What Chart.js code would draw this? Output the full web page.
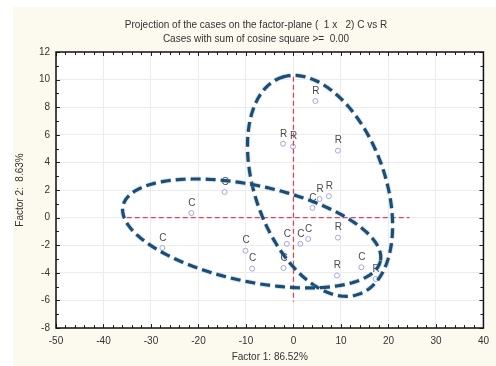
<!DOCTYPE html>
<html><head><meta charset="utf-8">
<script src="https://cdn.jsdelivr.net/npm/chart.js@4.4.1/dist/chart.umd.min.js"></script>
<style>html,body{margin:0;padding:0;background:#fff;}canvas{display:block;}</style>
</head><body>
<canvas id="c" width="496" height="366"></canvas>
<script>
// ---- data ----
const titleLine1 = "Projection of the cases on the factor-plane (  1 x   2) C vs R";
const titleLine2 = "Cases with sum of cosine square >=  0.00";
const xAxisTitle = "Factor 1: 86.52%";
const yAxisTitle = "Factor 2:  8.63%";

const cX = [-14.5, -21.5, -27.6, -10.1, -8.7, -1.4, 1.45, 3.1, -2.1, 14.3, 4.0];
const cY = [1.85, 0.33, -2.2, -2.4, -3.7, -1.9, -1.9, -1.55, -3.65, -3.6, 0.7];
const cLabel = "C";

const rX = [4.6, -2.2, -0.1, 9.35, 5.5, 7.45, 9.35, 9.15, 17.3];
const rY = [8.45, 5.35, 5.15, 4.85, 1.35, 1.55, -1.45, -4.2, -4.45];
const rLabel = "R";

// reference (zero) lines: [x1,y1,x2,y2]
const vZeroLine = [0, 10.2, 0, -6.1];
const hZeroLine = [-35.1, 0, 24.4, 0];

// ellipses in data units: [centerX, centerY, axis1X, axis1Y, axis2X, axis2Y]
const ellipseR = [5.6, 2.3, -8.26, 7.84, 12.85, 1.61];
const ellipseC = [-8.8, -1.15, 27.1, -1.99, -2.1, -3.41];

const xTicks = {min: -50, max: 40, step: 10, minor: 2};
const yTicks = {min: -8, max: 12, step: 2, minor: 1};

// ---- drawing ----
const FONT = "'Liberation Sans', Arial, sans-serif";
const bgPlugin = {
  id: 'bg',
  beforeDraw(chart) {
    const ctx = chart.ctx, a = chart.chartArea;
    ctx.save();
    ctx.fillStyle = '#ffffff';
    ctx.fillRect(0, 0, chart.width, chart.height);
    ctx.fillStyle = '#fcf9ef';
    ctx.fillRect(13, 7, chart.width - 13, chart.height - 7);
    ctx.fillStyle = '#ffffff';
    ctx.fillRect(a.left, a.top, a.right - a.left, a.bottom - a.top);
    ctx.restore();
  },
  afterDraw(chart) {
    const ctx = chart.ctx, a = chart.chartArea;
    const xs = chart.scales.x, ys = chart.scales.y;
    ctx.save();
    // minor / major inward tick marks
    ctx.strokeStyle = '#222';
    ctx.lineWidth = 1;
    ctx.beginPath();
    for (let v = xTicks.min; v <= xTicks.max + 1e-9; v += xTicks.minor) {
      const px = Math.round(xs.getPixelForValue(v)) + 0.5;
      const len = (Math.abs(v % xTicks.step) < 1e-9) ? 4 : 3;
      ctx.moveTo(px, a.bottom); ctx.lineTo(px, a.bottom - len);
      ctx.moveTo(px, a.top); ctx.lineTo(px, a.top + len);
    }
    for (let v = yTicks.min; v <= yTicks.max + 1e-9; v += yTicks.minor) {
      const py = Math.round(ys.getPixelForValue(v)) + 0.5;
      const len = (Math.abs(v % yTicks.step) < 1e-9) ? 4 : 3;
      ctx.moveTo(a.left, py); ctx.lineTo(a.left + len, py);
      ctx.moveTo(a.right, py); ctx.lineTo(a.right - len, py);
    }
    ctx.stroke();
    // frame
    ctx.lineWidth = 1.5;
    ctx.strokeStyle = '#111';
    ctx.strokeRect(a.left, a.top, a.right - a.left, a.bottom - a.top);
    // titles
    ctx.fillStyle = '#333';
    ctx.font = '10px ' + FONT;
    ctx.textAlign = 'center';
    ctx.textBaseline = 'middle';
    ctx.fillText(titleLine1, 256, 25);
    ctx.fillText(titleLine2, 256, 39);
    ctx.fillText(xAxisTitle, (a.left + a.right) / 2, 357);
    ctx.translate(20, (a.top + a.bottom) / 2);
    ctx.rotate(-Math.PI / 2);
    ctx.fillText(yAxisTitle, 0, 0);
    ctx.restore();
  },
  afterDatasetDraw(chart, args) {
    const ds = chart.data.datasets[args.index];
    if (!ds.pointLabel) return;
    const ctx = chart.ctx;
    const meta = chart.getDatasetMeta(args.index);
    ctx.save();
    ctx.fillStyle = '#4a4a4a';
    ctx.font = '10px ' + FONT;
    ctx.textAlign = 'center';
    ctx.textBaseline = 'middle';
    meta.data.forEach(el => ctx.fillText(ds.pointLabel, el.x + 0.5, el.y - 10));
    ctx.restore();
  },
  afterDatasetsDraw(chart) {
    const ctx = chart.ctx, a = chart.chartArea;
    const xs = chart.scales.x, ys = chart.scales.y;
    ctx.save();
    ctx.beginPath();
    ctx.rect(a.left, a.top, a.right - a.left, a.bottom - a.top);
    ctx.clip();
    [ellipseR, ellipseC].forEach(e => {
      ctx.beginPath();
      const n = 240;
      for (let i = 0; i <= n; i++) {
        const t = i / n * Math.PI * 2;
        const dx = e[0] + e[2] * Math.cos(t) + e[4] * Math.sin(t);
        const dy = e[1] + e[3] * Math.cos(t) + e[5] * Math.sin(t);
        const px = xs.getPixelForValue(dx), py = ys.getPixelForValue(dy);
        if (i === 0) ctx.moveTo(px, py); else ctx.lineTo(px, py);
      }
      ctx.closePath();
      ctx.strokeStyle = 'rgba(120,180,220,0.35)';
      ctx.lineWidth = 5;
      ctx.setLineDash([10, 5]);
      ctx.stroke();
      ctx.strokeStyle = '#1e4d74';
      ctx.lineWidth = 3.2;
      ctx.stroke();
    });
    ctx.restore();
  }
};

const pts = (xs, ys) => xs.map((x, i) => ({x: x, y: ys[i]}));
const seg = s => [{x: s[0], y: s[1]}, {x: s[2], y: s[3]}];

new Chart(document.getElementById('c'), {
  type: 'scatter',
  data: {
    datasets: [
      {data: pts(cX, cY), pointLabel: cLabel, pointRadius: 2.5, pointBorderWidth: 1,
       pointBorderColor: '#a3a6e6', pointBackgroundColor: 'rgba(255,255,255,0)', order: 3},
      {data: pts(rX, rY), pointLabel: rLabel, pointRadius: 2.5, pointBorderWidth: 1,
       pointBorderColor: '#a3a6e6', pointBackgroundColor: 'rgba(255,255,255,0)', order: 3},
      {data: seg(vZeroLine), showLine: true, borderColor: '#e8405a', borderWidth: 1.3,
       borderDash: [5, 3], pointRadius: 0, order: 1},
      {data: seg(hZeroLine), showLine: true, borderColor: '#e8405a', borderWidth: 1.3,
       borderDash: [5, 3], pointRadius: 0, order: 1}
    ]
  },
  options: {
    responsive: false, animation: false, devicePixelRatio: 1,
    layout: {padding: {left: 0, right: 12, top: 52, bottom: 0}},
    plugins: {legend: {display: false}, tooltip: {enabled: false}, title: {display: false}},
    scales: {
      x: {
        type: 'linear', min: xTicks.min, max: xTicks.max,
        afterFit(s) { s.height = 38; },
        ticks: {stepSize: xTicks.step, padding: 7, color: '#333', font: {family: FONT, size: 10},
                maxRotation: 0, autoSkip: false},
        grid: {color: '#ececec', lineWidth: 1, drawTicks: false},
        border: {display: false}
      },
      y: {
        type: 'linear', min: yTicks.min, max: yTicks.max,
        afterFit(s) { s.width = 56; },
        ticks: {stepSize: yTicks.step, padding: 6, color: '#333', font: {family: FONT, size: 10}},
        grid: {color: '#ececec', lineWidth: 1, drawTicks: false},
        border: {display: false}
      }
    }
  },
  plugins: [bgPlugin]
});
</script>
</body></html>
